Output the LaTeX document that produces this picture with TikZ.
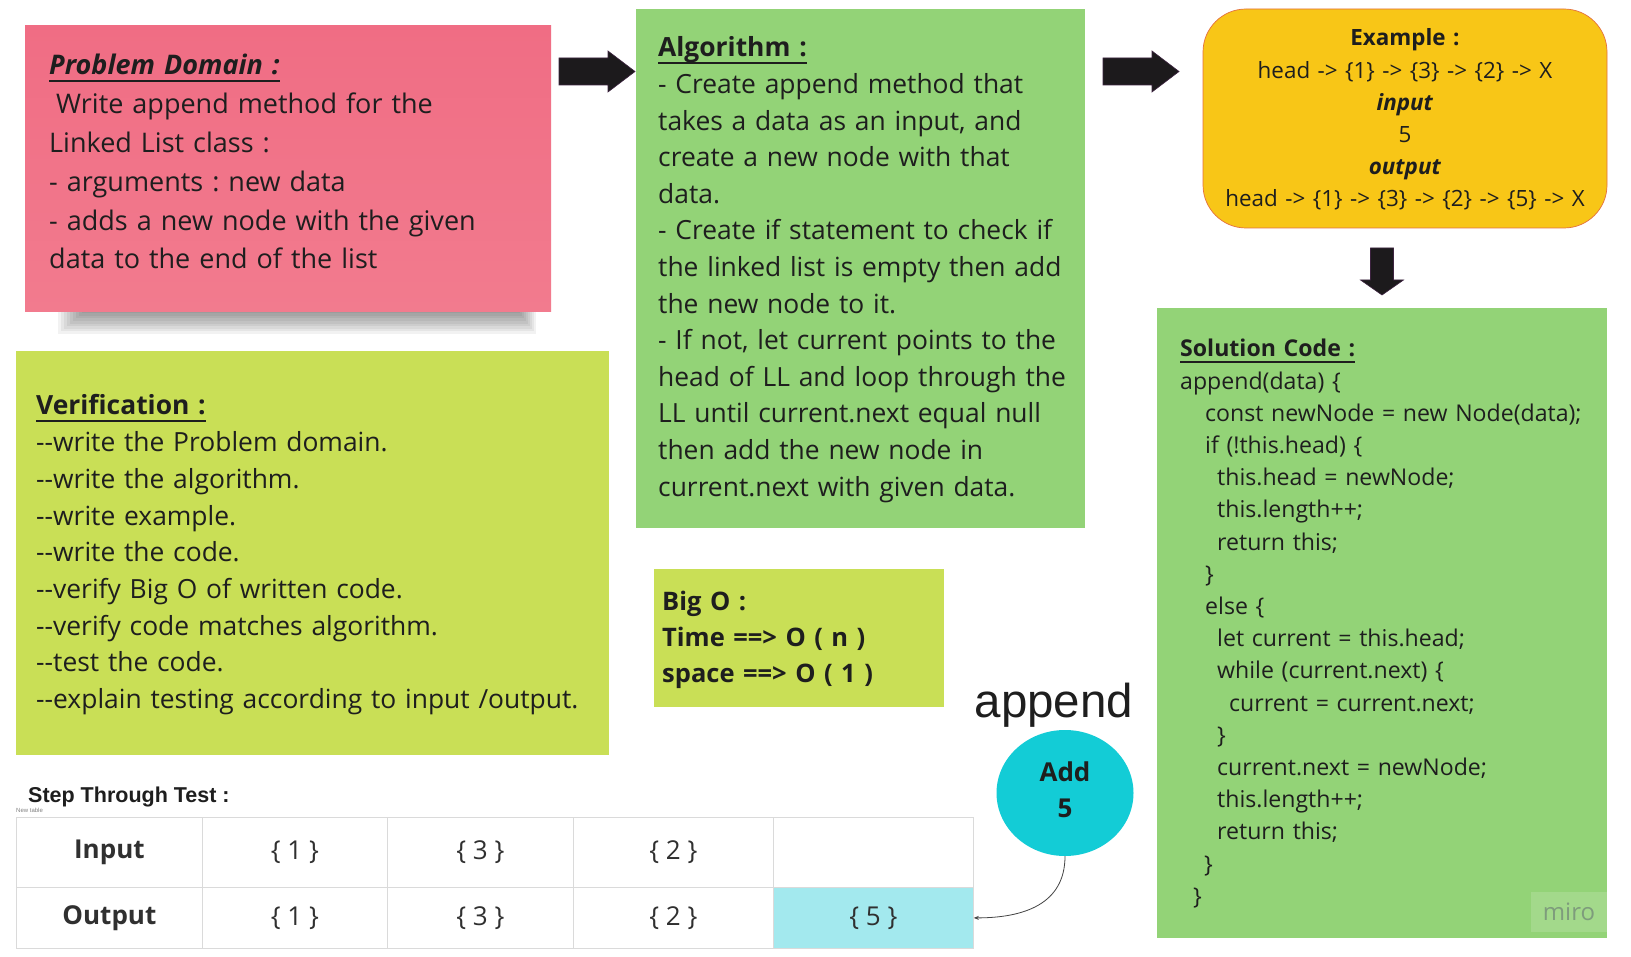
\documentclass[tikz,border=0pt]{standalone}
\usepackage{fontspec}
\setmainfont{Open Sans}[Ligatures=TeXOff]
\newfontfamily\arialfont{Liberation Sans}[Ligatures=TeXOff]
\usetikzlibrary{shapes.geometric,arrows.meta}
\frenchspacing

\definecolor{notepink}{HTML}{F06D84}
\definecolor{notepinklt}{HTML}{F27B8E}
\definecolor{algogreen}{HTML}{93D377}
\definecolor{verifgreen}{HTML}{C9DF56}
\definecolor{exyellow}{HTML}{F8C617}
\definecolor{exborder}{HTML}{E4703E}
\definecolor{addcyan}{HTML}{13CCD6}
\definecolor{cellcyan}{HTML}{A3E9EE}
\definecolor{gridgray}{HTML}{DADADA}
\definecolor{inkblack}{HTML}{1E1E1E}
\definecolor{arrowblack}{HTML}{1C1A1C}
\definecolor{arrowedge}{HTML}{3D2340}
\definecolor{miroink}{HTML}{7E9C7C}
\definecolor{connink}{HTML}{444444}

% underlined bold heading
\newcommand\ulhead[1]{\setbox0=\hbox{\textbf{#1}}\rlap{\rule[-0.26em]{\wd0}{0.075em}}\box0}
\newcommand\ind[1]{\hspace*{#1pt}}

\tikzset{
  box/.style={anchor=north west, inner sep=0pt, outer sep=0pt},
  txt/.style={anchor=base west, inner sep=0pt, align=left, text width=600pt, text=inkblack},
  cell/.style={anchor=north west, inner sep=0pt, draw=gridgray, line width=0.8pt,
    text=inkblack!92, font=\fontsize{26}{30}\selectfont},
  conn/.style={draw=connink, line width=0.8pt, -{Stealth[length=5pt,width=4pt]}},
  pics/blockarrow/.style n args={4}{code={
    \filldraw[fill=arrowblack, draw=arrowedge, line width=0.6pt]
      (0,-#3) -- (#1-#2,-#3) -- (#1-#2,-#4) -- (#1,0) -- (#1-#2,#4) -- (#1-#2,#3) -- (0,#3) -- cycle;
  }},
}

\begin{document}
\begin{tikzpicture}[x=1pt,y=-1pt]
  \useasboundingbox (0,0) rectangle (1631,957);
  \fill[white] (0,0) rectangle (1631,957);

  % problem domain sticky note
  \foreach \k in {0,...,9}
    \fill[black, opacity=0.05] (58+3*\k,304) rectangle (536-2*\k,334-2.6*\k);
  \node[box, minimum width=526, minimum height=286, top color=notepink, bottom color=notepinklt] (prob) at (25,26) {};
  \node[txt, font=\fontsize{27}{38.8}\selectfont] (probtxt) at (49,75)
    {\ulhead{\itshape Problem Domain :}\\
     \ind{7}Write append method for the\\
     Linked List class :\\
     - arguments : new data\\
     - adds a new node with the given\\
     data to the end of the list};

  % algorithm
  \node[box, fill=algogreen, minimum width=449, minimum height=519] (algo) at (636,9) {};
  \node[txt, font=\fontsize{26.4}{36.6}\selectfont] (algotxt) at (658,57)
    {\ulhead{Algorithm :}\\
     - Create append method that\\
     takes a data as an input, and\\
     create a new node with that\\
     data.\\
     - Create if statement to check if\\
     the linked list is empty then add\\
     the new node to it.\\
     - If not, let current points to the\\
     head of LL and loop through the\\
     LL until current.next equal null\\
     then add the new node in\\
     current.next with given data.};

  % example
  \node[box, fill=exyellow, draw=exborder, line width=0.7pt, rounded corners=43pt,
    minimum width=404, minimum height=219] (exmpl) at (1203,9) {};
  \node[txt, align=center, anchor=base, text width=400pt, font=\fontsize{22.4}{32.2}\selectfont] (exmpltxt) at (1405,46)
    {\textbf{Example :}\\
     head -> \{1\} -> \{3\} -> \{2\} -> X\\
     \textbf{\itshape input}\\
     5\\
     \textbf{\itshape output}\\
     head -> \{1\} -> \{3\} -> \{2\} -> \{5\} -> X};

  % solution code
  \node[box, fill=algogreen, minimum width=450, minimum height=630] (sol) at (1157,308) {};
  \node[txt, font=\fontsize{23.1}{32.2}\selectfont] (soltxt) at (1180,357)
    {\ulhead{Solution Code :}\\
     append(data) \{\\
     \ind{25}const newNode = new Node(data);\\
     \ind{25}if (!this.head) \{\\
     \ind{37}this.head = newNode;\\
     \ind{37}this.length++;\\
     \ind{37}return this;\\
     \ind{25}\}\\
     \ind{25}else \{\\
     \ind{37}let current = this.head;\\
     \ind{37}while (current.next) \{\\
     \ind{49}current = current.next;\\
     \ind{37}\}\\
     \ind{37}current.next = newNode;\\
     \ind{37}this.length++;\\
     \ind{37}return this;\\
     \ind{24}\}\\
     \ind{13}\}};
  \node[box, fill=white, fill opacity=0.15, text opacity=1, text=miroink, minimum width=76, minimum height=40,
    font=\fontsize{24}{24}\selectfont] (miro) at (1531,892) {miro};

  % verification
  \node[box, fill=verifgreen, minimum width=593, minimum height=404] (verif) at (16,351) {};
  \node[txt, font=\fontsize{26.4}{36.7}\selectfont] (veriftxt) at (36,415)
    {\ulhead{Verification :}\\
     --write the Problem domain.\\
     --write the algorithm.\\
     --write example.\\
     --write the code.\\
     --verify Big O of written code.\\
     --verify code matches algorithm.\\
     --test the code.\\
     --explain testing according to input /output.};

  % big O
  \node[box, fill=verifgreen, minimum width=290, minimum height=138] (bigo) at (654,569) {};
  \node[txt, font=\bfseries\fontsize{25.5}{36}\selectfont] (bigotxt) at (662,610)
    {Big O :\\
     Time ==> O ( n )\\
     space ==> O ( 1 )};

  % arrows between the notes
  \pic (arrA) at (559,71.5) {blockarrow={76}{27}{13.5}{20.5}};
  \pic (arrB) at (1103,71.5) {blockarrow={76}{27}{13.5}{20.5}};
  \pic[rotate=-90] (arrC) at (1382,248) {blockarrow={47}{15}{11.5}{21.5}};

  % step through test table
  \node[anchor=base west, inner sep=0pt, text=inkblack, font=\arialfont\bfseries\fontsize{21.5}{24}\selectfont] (steplbl) at (28,802) {Step Through Test :};
  \node[anchor=base west, inner sep=0pt, text=gray, font=\arialfont\fontsize{6}{7}\selectfont] (newtbl) at (16,812) {New table};
  \foreach \xa/\xb/\intxt/\outtxt/\cellfill [count=\i] in {
      16/202/{\textbf{Input}}/{\textbf{Output}}/white,
      202/387/{\{ 1 \}}/{\{ 1 \}}/white,
      387/573/{\{ 3 \}}/{\{ 3 \}}/white,
      573/773/{\{ 2 \}}/{\{ 2 \}}/white,
      773/973/{}/{\{ 5 \}}/cellcyan}
  {
    \node[cell, minimum width=\xb-\xa, minimum height=70] (in\i) at (\xa,817) {\intxt};
    \node[cell, fill=\cellfill, minimum width=\xb-\xa, minimum height=61] (out\i) at (\xa,887) {\outtxt};
  }

  % append 5
  \node[anchor=base, inner sep=0pt, text=inkblack, font=\arialfont\fontsize{47.5}{50}\selectfont] (appendlbl) at (1054,717) {append};
  \node[ellipse, fill=addcyan, minimum width=137, minimum height=126, inner sep=0pt] (add) at (1065,793) {};
  \node[align=center, inner sep=0pt, text=inkblack, font=\bfseries\fontsize{26}{36}\selectfont] (addtxt) at (1065,789.5) {Add\\5};
  \draw[conn] (add.south) .. controls +(0,48) and +(50,0) .. (out5.east);
\end{tikzpicture}
\end{document}
